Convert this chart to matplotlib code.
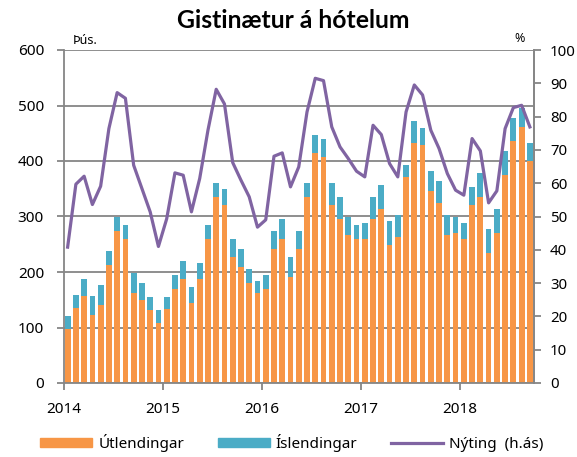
import matplotlib
matplotlib.use("Agg")
import matplotlib.pyplot as plt
from matplotlib.patches import Patch
from matplotlib.lines import Line2D
import numpy as np

plt.rcParams['font.family'] = ['Noto Sans', 'DejaVu Sans']

years = ["2014", "2015", "2016", "2017", "2018"]

utlendingar = [97, 135, 156, 123, 141, 213, 274, 260, 162, 149, 131, 108,
               134, 170, 188, 144, 188, 260, 335, 321, 227, 209, 180, 162,
               170, 242, 260, 191, 242, 335, 415, 407, 321, 296, 267, 260,
               260, 296, 314, 249, 263, 371, 432, 428, 346, 324, 267, 271,
               260, 321, 335, 234, 271, 374, 436, 462, 400]
totals = [120, 159, 188, 156, 177, 238, 299, 285, 198, 181, 155, 131,
          155, 195, 220, 173, 217, 285, 361, 349, 259, 242, 205, 184,
          195, 274, 296, 227, 274, 361, 447, 439, 361, 336, 299, 285,
          289, 336, 357, 292, 303, 392, 472, 460, 382, 364, 303, 299,
          289, 353, 379, 277, 314, 418, 478, 495, 432]
islendingar = [t - u for t, u in zip(totals, utlendingar)]
nyting = [40.8, 59.7, 62.1, 53.6, 59.1, 76.4, 87.2, 85.5, 65.4, 58.4, 51.4, 41.0,
          49.3, 63.1, 62.4, 51.4, 61.4, 75.9, 88.2, 83.8, 66.2, 60.9, 55.9, 46.8,
          49.0, 68.1, 69.1, 58.9, 64.9, 81.4, 91.5, 90.8, 76.9, 70.9, 67.4, 63.6,
          61.9, 77.4, 74.6, 65.9, 61.9, 81.4, 89.5, 86.5, 75.9, 70.4, 62.9, 57.9,
          56.4, 73.4, 69.7, 54.1, 57.7, 76.4, 82.7, 83.4, 76.9]

c_or = '#F79646'
c_bl = '#4BACC6'
c_pu = '#8064A2'
c_ax = '#868686'

W, H = 577, 457
fig = plt.figure(figsize=(W / 100, H / 100), dpi=100)
L, R, T, B = 63.5, 534, 50, 383
ax = fig.add_axes([L / W, 1 - B / H, (R - L) / W, (B - T) / H])
x = np.arange(len(utlendingar))
ax.bar(x, utlendingar, width=0.7, color=c_or, zorder=2)
ax.bar(x, islendingar, bottom=utlendingar, width=0.7, color=c_bl, zorder=2)
ax.set_ylim(0, 600)
ax.set_xlim(-0.5, len(x) - 0.5)
ax.set_yticks(range(0, 601, 100))
ax.yaxis.grid(True, color=c_ax, linewidth=1.3, zorder=0)
ax.set_axisbelow(True)
ax.set_xticks([-0.5 + 12 * i for i in range(5)])
ax.set_xticklabels(years)
ax.spines['top'].set_visible(False)
for s in ['left', 'bottom', 'right']:
    ax.spines[s].set_color(c_ax)
    ax.spines[s].set_linewidth(1.3)
ax.tick_params(axis='both', colors=c_ax, labelcolor='black', labelsize=11,
               length=5, width=1.3)
ax.tick_params(axis='y', pad=9)
ax.tick_params(axis='x', pad=9)

ax2 = ax.twinx()
ax2.plot(x, nyting, color=c_pu, linewidth=2.3, zorder=3, solid_joinstyle='round')
ax2.set_ylim(0, 100)
ax2.set_yticks(range(0, 101, 10))
for s in ['top', 'left', 'bottom']:
    ax2.spines[s].set_visible(False)
ax2.spines['right'].set_color(c_ax)
ax2.spines['right'].set_linewidth(1.3)
ax2.tick_params(axis='y', colors=c_ax, labelcolor='black', labelsize=10.8,
                length=5, width=1.3, pad=6.5)

fig.text(293 / W, 1 - 28.5 / H, "Gistinætur á hótelum", ha='center', va='baseline',
         fontsize=17.8, fontweight='bold', family=['Lato', 'DejaVu Sans'])
fig.text(73 / W, 1 - 40 / H, "Þús.", ha='left', va='center', fontsize=9)
fig.text(520 / W, 1 - 39 / H, "%", ha='center', va='center', fontsize=9)

handles = [Patch(color=c_or), Patch(color=c_bl), Line2D([0], [0], color=c_pu, lw=2.3)]
labels = ["Útlendingar", "Íslendingar", "Nýting  (h.ás)"]
fig.legend(handles, labels, loc='center', bbox_to_anchor=(292 / W, 1 - 443 / H), ncol=3,
           frameon=False, fontsize=11, handlelength=3.4, handleheight=0.6,
           columnspacing=2.2, handletextpad=0.4, borderpad=0, borderaxespad=0)

fig.savefig("out.png", dpi=100)
